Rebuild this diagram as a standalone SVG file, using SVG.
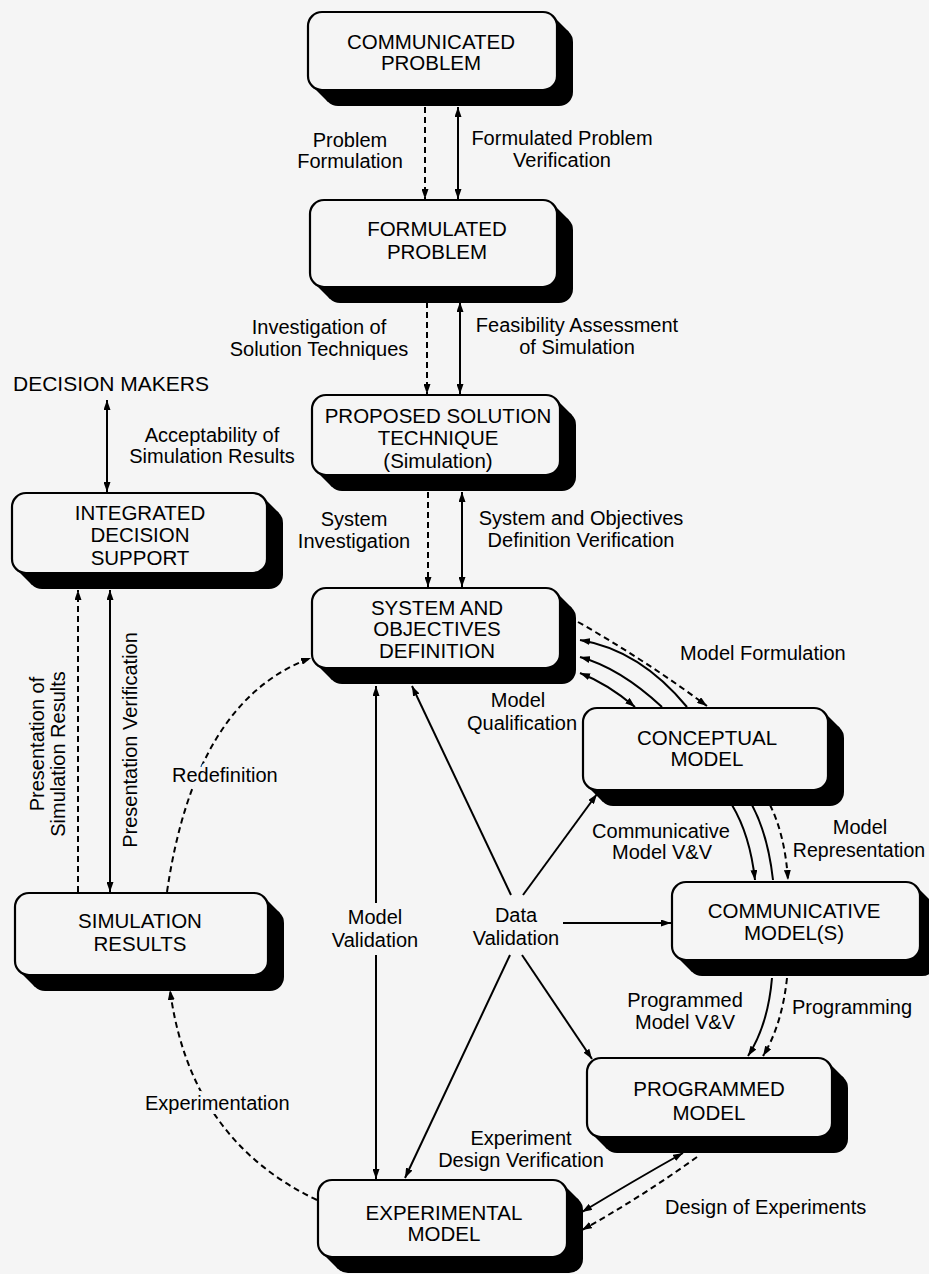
<svg xmlns="http://www.w3.org/2000/svg" width="929" height="1274" viewBox="0 0 929 1274">
<style>
.face{fill:#f5f5f5;stroke:#000;stroke-width:2.2}
.sh{fill:#000}
.nt{font-family:"Liberation Sans",Arial,sans-serif;font-size:20.5px;text-anchor:middle;fill:#000}
.lb{font-family:"Liberation Sans",Arial,sans-serif;font-size:20px;text-anchor:middle;fill:#000}
.st{text-anchor:start}
.mask{stroke:#f5f5f5;stroke-width:8;paint-order:stroke;stroke-linejoin:round}
.ln{fill:none;stroke:#000;stroke-width:2}
.ds{stroke-dasharray:6 4}
</style>
<defs>
<marker id="ah" viewBox="0 0 10 7" refX="10" refY="3.5" markerWidth="10" markerHeight="7" markerUnits="userSpaceOnUse" orient="auto-start-reverse">
<path d="M0,0 L10,3.5 L0,7 z" fill="#000"/>
</marker>
</defs>
<rect x="0" y="0" width="929" height="1274" fill="#f5f5f5"/>

<g id="connectors">
<path class="ln ds" d="M425,107 V199" marker-end="url(#ah)"/>
<path class="ln" d="M458,107 V199" marker-start="url(#ah)" marker-end="url(#ah)"/>
<path class="ln ds" d="M427,302 V394" marker-end="url(#ah)"/>
<path class="ln" d="M460,302 V394" marker-start="url(#ah)" marker-end="url(#ah)"/>
<path class="ln ds" d="M428,492 V587" marker-end="url(#ah)"/>
<path class="ln" d="M462,492 V587" marker-start="url(#ah)" marker-end="url(#ah)"/>
<path class="ln" d="M107,400 V492" marker-start="url(#ah)" marker-end="url(#ah)"/>
<path class="ln ds" d="M78,892 V590" marker-end="url(#ah)"/>
<path class="ln" d="M110,590 V892" marker-start="url(#ah)" marker-end="url(#ah)"/>
<path class="ln ds" d="M167,892 Q195,700 311,658" marker-end="url(#ah)"/>
<path class="ln ds" d="M317,1200 Q190,1140 170,990" marker-end="url(#ah)"/>
<path class="ln" d="M376,903 V686" marker-end="url(#ah)"/>
<path class="ln" d="M376,955 V1179" marker-end="url(#ah)"/>
<path class="ln" d="M511,895 L412,686" marker-end="url(#ah)"/>
<path class="ln" d="M523,895 L597,794" marker-end="url(#ah)"/>
<path class="ln" d="M563,923 L671,923" marker-end="url(#ah)"/>
<path class="ln" d="M510,955 L405,1178" marker-end="url(#ah)"/>
<path class="ln" d="M522,955 L592,1059" marker-end="url(#ah)"/>
<path class="ln ds" d="M578,622 Q645,660 707,706" marker-end="url(#ah)"/>
<path class="ln" d="M687,707 Q640,650 580,640" marker-end="url(#ah)"/>
<path class="ln" d="M662,707 Q620,668 580,657" marker-end="url(#ah)"/>
<path class="ln" d="M580,673 Q608,684 635,707" marker-start="url(#ah)" marker-end="url(#ah)"/>
<path class="ln" d="M732,805 Q750,835 755,880" marker-end="url(#ah)"/>
<path class="ln" d="M752,805 Q768,835 773,880"/>
<path class="ln ds" d="M770,805 Q785,835 788,880" marker-end="url(#ah)"/>
<path class="ln" d="M772,978 Q768,1025 748,1056" marker-end="url(#ah)"/>
<path class="ln ds" d="M787,978 Q782,1025 763,1056" marker-end="url(#ah)"/>
<path class="ln" d="M683,1153 Q635,1180 582,1212" marker-start="url(#ah)" marker-end="url(#ah)"/>
<path class="ln ds" d="M697,1157 Q640,1198 582,1230" marker-end="url(#ah)"/>
</g>

<g id="n-communicated">
<rect class="sh" x="324" y="28" width="249" height="78" rx="14"/>
<polygon class="sh" points="553,16 569,32 569,102 328,102 312,86"/>
<rect class="face" x="308" y="12" width="249" height="78" rx="14"/>
<text class="nt" x="431" y="49">COMMUNICATED</text>
<text class="nt" x="431" y="70">PROBLEM</text>
</g>
<g id="n-formulated">
<rect class="sh" x="326" y="216" width="247" height="87" rx="14"/>
<polygon class="sh" points="553,204 569,220 569,299 330,299 314,283"/>
<rect class="face" x="310" y="200" width="247" height="87" rx="14"/>
<text class="nt" x="437" y="236">FORMULATED</text>
<text class="nt" x="437" y="259">PROBLEM</text>
</g>
<g id="n-proposed">
<rect class="sh" x="328" y="411" width="248" height="80" rx="14"/>
<polygon class="sh" points="556,399 572,415 572,487 332,487 316,471"/>
<rect class="face" x="312" y="395" width="248" height="80" rx="14"/>
<text class="nt" x="438" y="423">PROPOSED SOLUTION</text>
<text class="nt" x="438" y="445">TECHNIQUE</text>
<text class="nt" x="438" y="468">(Simulation)</text>
</g>
<g id="n-ids">
<rect class="sh" x="28" y="509" width="255" height="80" rx="14"/>
<polygon class="sh" points="263,497 279,513 279,585 32,585 16,569"/>
<rect class="face" x="12" y="493" width="255" height="80" rx="14"/>
<text class="nt" x="140" y="520">INTEGRATED</text>
<text class="nt" x="140" y="542">DECISION</text>
<text class="nt" x="140" y="565">SUPPORT</text>
</g>
<g id="n-system">
<rect class="sh" x="328" y="604" width="248" height="80" rx="14"/>
<polygon class="sh" points="556,592 572,608 572,680 332,680 316,664"/>
<rect class="face" x="312" y="588" width="248" height="80" rx="14"/>
<text class="nt" x="437" y="615">SYSTEM AND</text>
<text class="nt" x="437" y="636">OBJECTIVES</text>
<text class="nt" x="437" y="658">DEFINITION</text>
</g>
<g id="n-conceptual">
<rect class="sh" x="599" y="724" width="245" height="82" rx="14"/>
<polygon class="sh" points="824,712 840,728 840,802 603,802 587,786"/>
<rect class="face" x="583" y="708" width="245" height="82" rx="14"/>
<text class="nt" x="707" y="745">CONCEPTUAL</text>
<text class="nt" x="707" y="766">MODEL</text>
</g>
<g id="n-communicative">
<rect class="sh" x="688" y="898" width="248" height="78" rx="14"/>
<polygon class="sh" points="916,886 932,902 932,972 692,972 676,956"/>
<rect class="face" x="672" y="882" width="248" height="78" rx="14"/>
<text class="nt" x="794" y="918">COMMUNICATIVE</text>
<text class="nt" x="794" y="940">MODEL(S)</text>
</g>
<g id="n-simresults">
<rect class="sh" x="31" y="909" width="253" height="82" rx="14"/>
<polygon class="sh" points="264,897 280,913 280,987 35,987 19,971"/>
<rect class="face" x="15" y="893" width="253" height="82" rx="14"/>
<text class="nt" x="140" y="928">SIMULATION</text>
<text class="nt" x="140" y="951">RESULTS</text>
</g>
<g id="n-programmed">
<rect class="sh" x="603" y="1074" width="245" height="79" rx="14"/>
<polygon class="sh" points="828,1062 844,1078 844,1149 607,1149 591,1133"/>
<rect class="face" x="587" y="1058" width="245" height="79" rx="14"/>
<text class="nt" x="709" y="1096">PROGRAMMED</text>
<text class="nt" x="709" y="1120">MODEL</text>
</g>
<g id="n-experimental">
<rect class="sh" x="334" y="1196" width="249" height="77" rx="14"/>
<polygon class="sh" points="563,1184 579,1200 579,1269 338,1269 322,1253"/>
<rect class="face" x="318" y="1180" width="249" height="77" rx="14"/>
<text class="nt" x="444" y="1220">EXPERIMENTAL</text>
<text class="nt" x="444" y="1241">MODEL</text>
</g>
<g id="n-decisionmakers">
<text class="nt st" x="13" y="391" style="font-size:21px">DECISION MAKERS</text>
</g>

<g id="labels">
<text class="lb" x="350" y="147">Problem</text>
<text class="lb" x="350" y="168">Formulation</text>
<text class="lb" x="562" y="145">Formulated Problem</text>
<text class="lb" x="562" y="167">Verification</text>
<text class="lb" x="319" y="334">Investigation of</text>
<text class="lb" x="319" y="356">Solution Techniques</text>
<text class="lb" x="577" y="332">Feasibility Assessment</text>
<text class="lb" x="577" y="354">of Simulation</text>
<text class="lb" x="212" y="442">Acceptability of</text>
<text class="lb" x="212" y="463">Simulation Results</text>
<text class="lb" x="354" y="526">System</text>
<text class="lb" x="354" y="548">Investigation</text>
<text class="lb" x="581" y="525">System and Objectives</text>
<text class="lb" x="581" y="547">Definition Verification</text>
<text class="lb st" x="680" y="660">Model Formulation</text>
<text class="lb" x="518" y="707">Model</text>
<text class="lb" x="522" y="730">Qualification</text>
<text class="lb st mask" x="172" y="782">Redefinition</text>
<text class="lb" x="661" y="838">Communicative</text>
<text class="lb" x="662" y="859">Model V&amp;V</text>
<text class="lb" x="860" y="834">Model</text>
<text class="lb" x="859" y="857" style="font-size:19.5px">Representation</text>
<text class="lb" x="375" y="924">Model</text>
<text class="lb" x="375" y="947">Validation</text>
<text class="lb" x="516" y="922">Data</text>
<text class="lb" x="516" y="945">Validation</text>
<text class="lb" x="685" y="1007">Programmed</text>
<text class="lb" x="685" y="1029">Model V&amp;V</text>
<text class="lb st" x="792" y="1014">Programming</text>
<text class="lb st mask" x="145" y="1110">Experimentation</text>
<text class="lb" x="521" y="1145">Experiment</text>
<text class="lb" x="521" y="1167">Design Verification</text>
<text class="lb st" x="665" y="1214">Design of Experiments</text>
<text class="lb" transform="translate(44,744) rotate(-90)">Presentation of</text>
<text class="lb" transform="translate(65,754) rotate(-90)">Simulation Results</text>
<text class="lb" transform="translate(137,740) rotate(-90)">Presentation Verification</text>
</g>
</svg>
